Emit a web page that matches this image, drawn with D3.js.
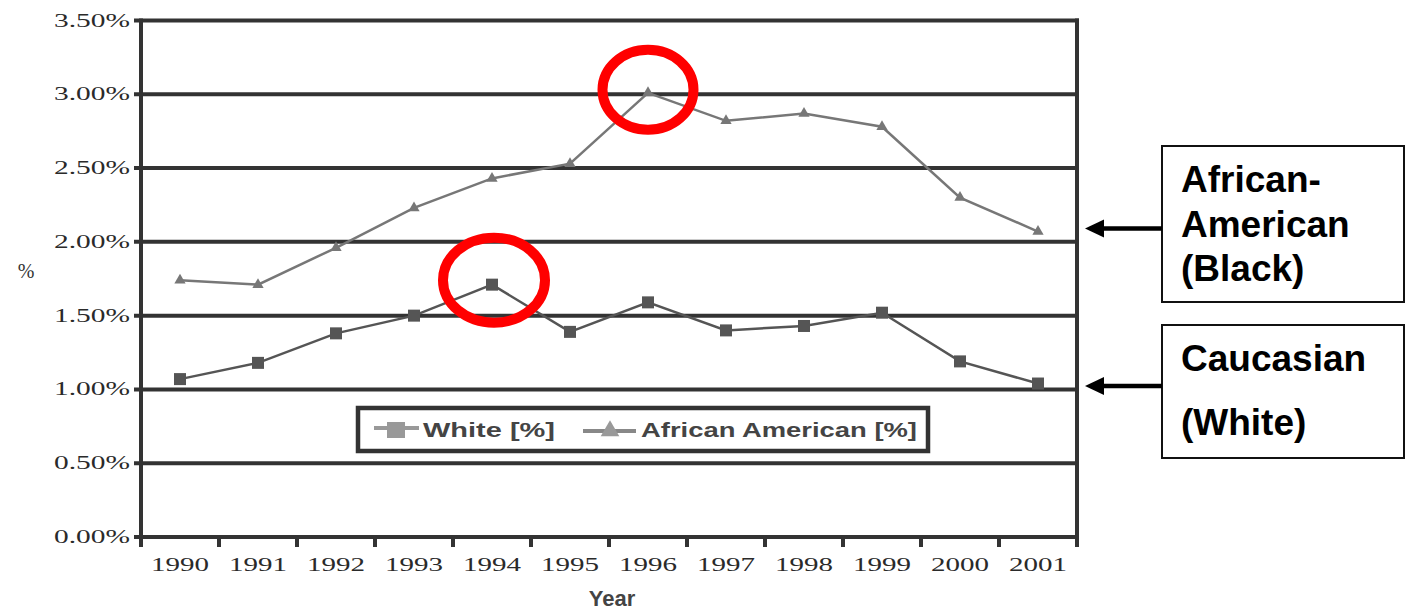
<!DOCTYPE html>
<html>
<head>
<meta charset="utf-8">
<script src="https://cdn.jsdelivr.net/npm/d3@7"></script>
<style>
  html, body { margin: 0; padding: 0; background: #fff; }
  svg { display: block; }
</style>
</head>
<body>
<svg id="chart" width="1408" height="613"></svg>
<script>
// ---- data ----
const years = ["1990","1991","1992","1993","1994","1995","1996","1997","1998","1999","2000","2001"];
const whitePct = [1.07, 1.18, 1.38, 1.50, 1.71, 1.39, 1.59, 1.40, 1.43, 1.52, 1.19, 1.04];
const africanAmericanPct = [1.74, 1.71, 1.96, 2.23, 2.43, 2.53, 3.01, 2.82, 2.87, 2.78, 2.30, 2.07];
const yTicks = [0, 0.5, 1.0, 1.5, 2.0, 2.5, 3.0, 3.5];
const yTickLabels = ["0.00%", "0.50%", "1.00%", "1.50%", "2.00%", "2.50%", "3.00%", "3.50%"];
const legendLabels = ["White [%]", "African American [%]"];
const highlightYears = ["1994", "1996"];
const highlightSeries = ["white", "aa"];
const calloutLines1 = ["African-", "American", "(Black)"];
const calloutLines2 = ["Caucasian", "(White)"];

// ---- layout ----
const svg = d3.select("#chart");
const plotL = 141, plotR = 1077, plotT = 20.5, plotB = 537;
const x = d3.scaleBand().domain(years).range([plotL, plotR]).padding(0);
const y = d3.scaleLinear().domain([0, 3.5]).range([plotB, plotT]);
const axisColor = "#333";

// gridlines (including ticks extending left)
svg.append("g").selectAll("line").data(yTicks).join("line")
  .attr("x1", plotL - 7).attr("x2", plotR + 2)
  .attr("y1", d => y(d)).attr("y2", d => y(d))
  .attr("stroke", axisColor).attr("stroke-width", 4);

// left axis line
svg.append("line").attr("x1", plotL).attr("x2", plotL)
  .attr("y1", plotT - 2).attr("y2", plotB + 2)
  .attr("stroke", axisColor).attr("stroke-width", 4);
// right border
svg.append("line").attr("x1", plotR).attr("x2", plotR)
  .attr("y1", plotT - 2).attr("y2", plotB + 10)
  .attr("stroke", axisColor).attr("stroke-width", 4);

// x ticks at band boundaries
svg.append("g").selectAll("line").data(years).join("line")
  .attr("x1", d => x(d)).attr("x2", d => x(d))
  .attr("y1", plotB).attr("y2", plotB + 10)
  .attr("stroke", axisColor).attr("stroke-width", 4);

// y tick labels
svg.append("g").selectAll("text").data(yTicks).join("text")
  .attr("x", 130).attr("y", d => y(d) + 6)
  .attr("text-anchor", "end")
  .attr("font-family", "Liberation Serif, serif")
  .attr("font-size", 18)
  .attr("fill", "#2a2a2a")
  .attr("textLength", 76).attr("lengthAdjust", "spacingAndGlyphs")
  .text((d, i) => yTickLabels[i]);

// x tick labels
svg.append("g").selectAll("text").data(years).join("text")
  .attr("x", d => x(d) + x.bandwidth() / 2).attr("y", 571)
  .attr("text-anchor", "middle")
  .attr("font-family", "Liberation Serif, serif")
  .attr("font-size", 19)
  .attr("fill", "#2a2a2a")
  .attr("textLength", 58).attr("lengthAdjust", "spacingAndGlyphs")
  .text(d => d);

// axis titles
svg.append("text").attr("x", 612).attr("y", 606)
  .attr("text-anchor", "middle")
  .attr("font-family", "Liberation Sans, Arial, sans-serif")
  .attr("font-weight", "bold").attr("font-size", 22)
  .attr("fill", "#444")
  .text("Year");
svg.append("text").attr("x", 26).attr("y", 278)
  .attr("text-anchor", "middle")
  .attr("font-family", "Liberation Serif, serif")
  .attr("font-size", 20)
  .attr("fill", "#333")
  .text("%");

// series lines
const cx = d => x(d) + x.bandwidth() / 2;
const line = d3.line().x(d => cx(d.year)).y(d => y(d.v));
const whiteData = years.map((yr, i) => ({year: yr, v: whitePct[i]}));
const aaData = years.map((yr, i) => ({year: yr, v: africanAmericanPct[i]}));

svg.append("path").datum(aaData).attr("d", line)
  .attr("fill", "none").attr("stroke", "#777").attr("stroke-width", 2.5);
svg.append("path").datum(whiteData).attr("d", line)
  .attr("fill", "none").attr("stroke", "#555").attr("stroke-width", 2.5);

// markers
const tri = d3.symbol().type(d3.symbolTriangle).size(55);
svg.append("g").selectAll("path").data(aaData).join("path")
  .attr("d", tri)
  .attr("transform", d => `translate(${cx(d.year)},${y(d.v)})`)
  .attr("fill", "#777");
svg.append("g").selectAll("rect").data(whiteData).join("rect")
  .attr("x", d => cx(d.year) - 6).attr("y", d => y(d.v) - 6)
  .attr("width", 12).attr("height", 12)
  .attr("fill", "#555");

// legend
const lg = svg.append("g");
lg.append("rect").attr("x", 358).attr("y", 408).attr("width", 570).attr("height", 43)
  .attr("fill", "#fff").attr("stroke", axisColor).attr("stroke-width", 4.5);
lg.append("line").attr("x1", 374).attr("x2", 419).attr("y1", 428).attr("y2", 428)
  .attr("stroke", "#999").attr("stroke-width", 4);
lg.append("rect").attr("x", 387).attr("y", 422).attr("width", 18).attr("height", 16)
  .attr("fill", "#999");
lg.append("line").attr("x1", 583).attr("x2", 636).attr("y1", 431).attr("y2", 431)
  .attr("stroke", "#888").attr("stroke-width", 4);
lg.append("path").attr("d", d3.symbol().type(d3.symbolTriangle).size(150))
  .attr("transform", "translate(610,431)").attr("fill", "#999");
lg.append("text").attr("x", 423).attr("y", 437)
  .attr("font-family", "Liberation Sans, Arial, sans-serif")
  .attr("font-weight", "bold").attr("font-size", 20).attr("fill", "#444")
  .attr("textLength", 132).attr("lengthAdjust", "spacingAndGlyphs")
  .text(legendLabels[0]);
lg.append("text").attr("x", 641).attr("y", 437)
  .attr("font-family", "Liberation Sans, Arial, sans-serif")
  .attr("font-weight", "bold").attr("font-size", 20).attr("fill", "#444")
  .attr("textLength", 276).attr("lengthAdjust", "spacingAndGlyphs")
  .text(legendLabels[1]);

// red highlight ellipses
const hl = highlightYears.map((yr, i) => {
  const idx = years.indexOf(yr);
  const v = highlightSeries[i] === "white" ? whitePct[idx] : africanAmericanPct[idx];
  return {year: yr, v: v, series: highlightSeries[i]};
});
svg.append("g").selectAll("ellipse").data(hl).join("ellipse")
  .attr("cx", d => cx(d.year) + (d.series === "white" ? 2 : 0))
  .attr("cy", d => y(d.v) - (d.series === "white" ? 4.5 : 3))
  .attr("rx", d => d.series === "white" ? 51 : 45.5)
  .attr("ry", d => d.series === "white" ? 42.5 : 40)
  .attr("fill", "none").attr("stroke", "#ff0000").attr("stroke-width", 10);

// callout boxes
function callout(yTop, h, lines, baselines, arrowY) {
  const g = svg.append("g");
  g.append("rect").attr("x", 1162).attr("y", yTop).attr("width", 242).attr("height", h)
    .attr("fill", "#fff").attr("stroke", "#111").attr("stroke-width", 2);
  g.selectAll("text").data(lines).join("text")
    .attr("x", 1181).attr("y", (d, i) => baselines[i])
    .attr("font-family", "Liberation Sans, Arial, sans-serif")
    .attr("font-weight", "bold").attr("font-size", 37).attr("fill", "#000")
    .text(d => d);
  g.append("line").attr("x1", 1100).attr("x2", 1162).attr("y1", arrowY).attr("y2", arrowY)
    .attr("stroke", "#000").attr("stroke-width", 4.5);
  g.append("path")
    .attr("d", `M1085,${arrowY} L1104,${arrowY - 9} L1104,${arrowY + 9} Z`)
    .attr("fill", "#000");
}
callout(146, 156, calloutLines1, [192, 237, 281], 228.5);
callout(325, 133, calloutLines2, [371, 435], 386);
</script>
</body>
</html>
